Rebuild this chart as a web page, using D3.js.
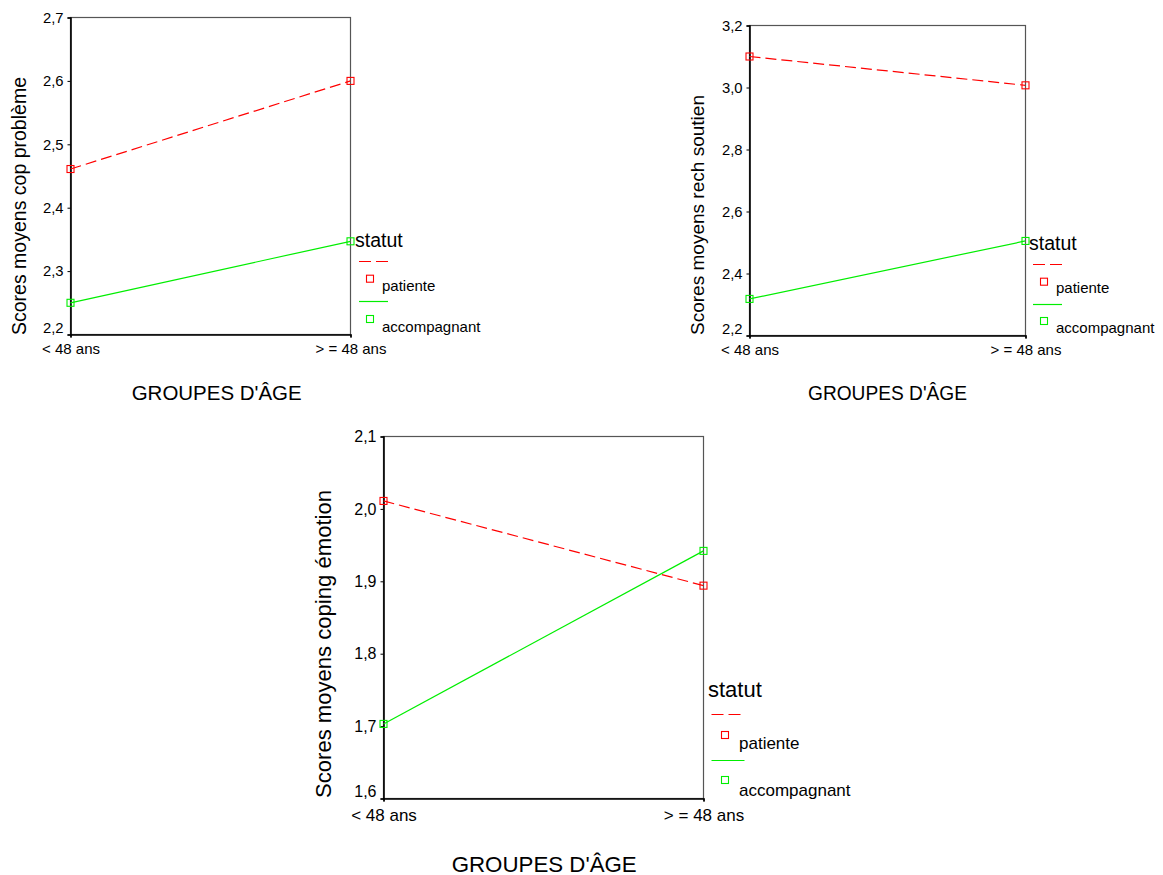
<!DOCTYPE html>
<html>
<head>
<meta charset="utf-8">
<script src="https://cdn.jsdelivr.net/npm/d3@7"></script>
<style>
  html, body { margin: 0; padding: 0; background: #fff; }
  svg { display: block; font-family: "Liberation Sans", Arial, sans-serif; }
</style>
</head>
<body>
<svg id="chart" width="1163" height="875"></svg>
<script>
// ---------- data ----------
const ageGroups = ["< 48 ans", "> = 48 ans"];
const statutNames = ["patiente", "accompagnant"];
const legendTitle = "statut";
const xTitle = "GROUPES D'ÂGE";

const copProblemePatiente = [2.461, 2.600];
const copProblemeAccompagnant = [2.250, 2.347];
const copProblemeTicks = [2.2, 2.3, 2.4, 2.5, 2.6, 2.7];

const rechSoutienPatiente = [3.100, 3.007];
const rechSoutienAccompagnant = [2.318, 2.505];
const rechSoutienTicks = [2.2, 2.4, 2.6, 2.8, 3.0, 3.2];

const copingEmotionPatiente = [2.011, 1.894];
const copingEmotionAccompagnant = [1.703, 1.942];
const copingEmotionTicks = [1.6, 1.7, 1.8, 1.9, 2.0, 2.1];

// ---------- styling ----------
const colors = { patiente: "#ff0000", accompagnant: "#00ee00" };
const dashes = { patiente: "11,5", accompagnant: null };

const fr = d3.formatLocale({ decimal: ",", thousands: " ", grouping: [3], currency: ["", " €"] });
const fmt = fr.format(".1f");

const panels = [
  {
    yTitle: "Scores moyens cop problème",
    series: [copProblemePatiente, copProblemeAccompagnant],
    ticks: copProblemeTicks,
    box: { left: 70.5, right: 350.5, top: 17.5, bottom: 334.5 },
    yTitleSpan: { x: 18.5, y0: 77, y1: 335 },
    font: { tick: 14.8, xlab: 15, ytitle: 19.5, xtitle: 19.5, ltitle: 19.5, litem: 15 },
    xTitleSpan: { x0: 131.7, x1: 301.7, y: 393 },
    legend: { x: 355, titleBase: 247, dashY: 261.5, lineX0: 359, lineX1: 388, sqX: 370, sq1Y: 278.7, item1Base: 291, greenY: 301.5, sq2Y: 319, item2Base: 331.7, textX: 382 },
    xLabY: 349
  },
  {
    yTitle: "Scores moyens rech soutien",
    series: [rechSoutienPatiente, rechSoutienAccompagnant],
    ticks: rechSoutienTicks,
    box: { left: 749.5, right: 1025.5, top: 25.5, bottom: 335.5 },
    yTitleSpan: { x: 697, y0: 95, y1: 335 },
    font: { tick: 14.8, xlab: 15, ytitle: 19, xtitle: 19.5, ltitle: 19.5, litem: 15 },
    xTitleSpan: { x0: 808, x1: 967, y: 393 },
    legend: { x: 1029, titleBase: 250, dashY: 264.5, lineX0: 1033, lineX1: 1062, sqX: 1044, sq1Y: 281.7, item1Base: 293, greenY: 304.5, sq2Y: 321, item2Base: 333, textX: 1056 },
    xLabY: 350
  },
  {
    yTitle: "Scores moyens coping émotion",
    series: [copingEmotionPatiente, copingEmotionAccompagnant],
    ticks: copingEmotionTicks,
    box: { left: 383.5, right: 703.5, top: 436.5, bottom: 798.5 },
    yTitleSpan: { x: 323.5, y0: 490, y1: 798 },
    font: { tick: 16, xlab: 17, ytitle: 22, xtitle: 22, ltitle: 22, litem: 17 },
    xTitleSpan: { x0: 451.7, x1: 636.7, y: 864 },
    legend: { x: 708, titleBase: 697, dashY: 714.5, lineX0: 711.5, lineX1: 744.5, sqX: 725, sq1Y: 735, item1Base: 749, greenY: 760.5, sq2Y: 780, item2Base: 795.7, textX: 739 },
    xLabY: 815
  }
];

const svg = d3.select("#chart");

panels.forEach(p => {
  const b = p.box;
  const g = svg.append("g");
  const x = d3.scalePoint().domain(ageGroups).range([b.left, b.right]).padding(0);
  const y = d3.scaleLinear().domain(d3.extent(p.ticks)).range([b.bottom, b.top]);

  // frame
  g.append("rect")
    .attr("x", b.left).attr("y", b.top)
    .attr("width", b.right - b.left).attr("height", b.bottom - b.top)
    .attr("fill", "none").attr("stroke", "#555").attr("stroke-width", 1.2);

  // y axis
  const yAxis = d3.axisLeft(y).tickValues(p.ticks).tickFormat(fmt).tickSize(3).tickPadding(4);
  const ya = g.append("g").attr("transform", `translate(${b.left},0)`).call(yAxis);
  ya.select(".domain").attr("stroke", "#000").attr("stroke-width", 1.6);
  ya.selectAll(".tick line").attr("stroke", "#000");
  ya.selectAll(".tick text")
    .attr("font-size", p.font.tick)
    .attr("fill", "#000")
    .attr("font-family", "Liberation Sans, Arial, sans-serif")
    .attr("dy", (d, i) => i === 0 ? "-0.15em" : "0.32em");

  // x axis
  const xAxis = d3.axisBottom(x).tickSize(3).tickPadding(4);
  const xa = g.append("g").attr("transform", `translate(0,${b.bottom})`).call(xAxis);
  xa.select(".domain").attr("stroke", "#000").attr("stroke-width", 1.6);
  xa.selectAll(".tick line").attr("stroke", "#000");
  xa.selectAll(".tick text")
    .attr("font-size", p.font.xlab)
    .attr("fill", "#000")
    .attr("font-family", "Liberation Sans, Arial, sans-serif")
    .attr("y", p.xLabY - b.bottom)
    .attr("dy", "0.35em");

  // y title
  const ys = p.yTitleSpan;
  g.append("text")
    .attr("transform", `translate(${ys.x},${(ys.y0 + ys.y1) / 2}) rotate(-90)`)
    .attr("text-anchor", "middle")
    .attr("dominant-baseline", "central")
    .attr("font-size", p.font.ytitle)
    .attr("textLength", ys.y1 - ys.y0)
    .attr("lengthAdjust", "spacingAndGlyphs")
    .attr("fill", "#000")
    .text(p.yTitle);

  // x title
  const xs = p.xTitleSpan;
  g.append("text")
    .attr("x", (xs.x0 + xs.x1) / 2).attr("y", xs.y)
    .attr("text-anchor", "middle")
    .attr("dominant-baseline", "central")
    .attr("font-size", p.font.xtitle)
    .attr("textLength", xs.x1 - xs.x0)
    .attr("lengthAdjust", "spacingAndGlyphs")
    .attr("fill", "#000")
    .text(xTitle);

  // lines
  const line = d3.line().x((d, i) => x(ageGroups[i])).y(d => y(d));
  p.series.forEach((vals, si) => {
    const name = statutNames[si];
    g.append("path")
      .datum(vals)
      .attr("d", line)
      .attr("fill", "none")
      .attr("stroke", colors[name])
      .attr("stroke-width", 1.2)
      .attr("stroke-dasharray", dashes[name]);
  });
  p.series.forEach((vals, si) => {
    const name = statutNames[si];
    g.selectAll(null).data(vals).enter().append("rect")
      .attr("x", (d, i) => x(ageGroups[i]) - 3.5)
      .attr("y", d => y(d) - 3.5)
      .attr("width", 7).attr("height", 7)
      .attr("fill", "none")
      .attr("stroke", colors[name])
      .attr("stroke-width", 1.1);
  });

  // legend
  const L = p.legend;
  g.append("text").attr("x", L.x).attr("y", L.titleBase)
    .attr("font-size", p.font.ltitle).attr("fill", "#000").text(legendTitle);
  const rows = [
    { name: statutNames[0], lineY: L.dashY, sqY: L.sq1Y, base: L.item1Base },
    { name: statutNames[1], lineY: L.greenY, sqY: L.sq2Y, base: L.item2Base }
  ];
  rows.forEach(r => {
    g.append("line")
      .attr("x1", L.lineX0).attr("x2", L.lineX1)
      .attr("y1", r.lineY).attr("y2", r.lineY)
      .attr("stroke", colors[r.name]).attr("stroke-width", 1.2)
      .attr("stroke-dasharray", r.name === "patiente" ? "12,5" : null);
    g.append("rect")
      .attr("x", L.sqX - 3.5).attr("y", r.sqY - 3.5)
      .attr("width", 7).attr("height", 7)
      .attr("fill", "none").attr("stroke", colors[r.name]).attr("stroke-width", 1.1);
    g.append("text")
      .attr("x", L.textX).attr("y", r.base)
      .attr("font-size", p.font.litem).attr("fill", "#000")
      .text(r.name);
  });
});
</script>
</body>
</html>
